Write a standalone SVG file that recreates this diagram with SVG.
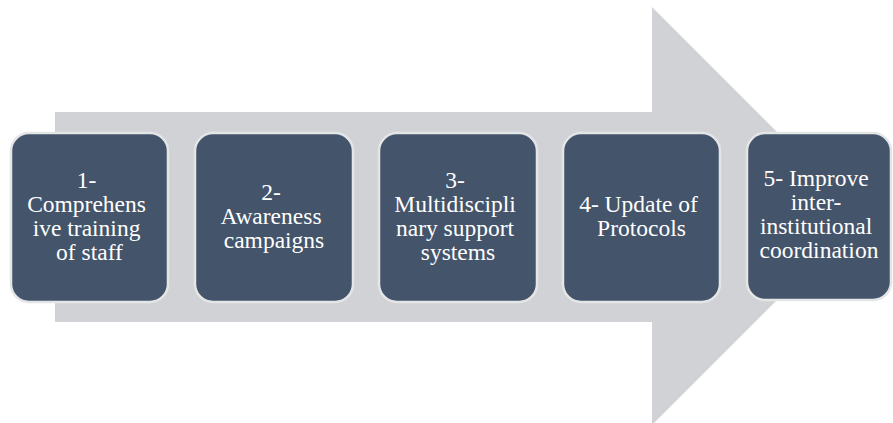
<svg xmlns="http://www.w3.org/2000/svg" width="893" height="423" viewBox="0 0 893 423">
  <style>
    .step { fill: #44546A; stroke: #E4E5E7; stroke-width: 2.5; }
    .label { font-family: "Liberation Serif", "Times New Roman", serif; font-size: 23.5px; fill: #FFFFFF; text-anchor: middle; }
  </style>
  <rect width="893" height="423" fill="#FFFFFF"/>
  <!-- background block arrow -->
  <g id="connectors">
    <polygon points="55,112 652,112 652,7 861,216 652,425 652,322 55,322" fill="#D0D2D6"/>
  </g>
  <g id="step1">
    <rect class="step" x="11" y="133" width="157" height="169" rx="18"/>
    <text class="label">
      <tspan x="89.5" y="188">1-</tspan>
      <tspan x="89.5" y="212">Comprehens</tspan>
      <tspan x="89.5" y="236">ive training</tspan>
      <tspan x="89.5" y="260">of staff</tspan>
    </text>
  </g>
  <g id="step2">
    <rect class="step" x="195" y="133" width="158" height="169" rx="18"/>
    <text class="label">
      <tspan x="274" y="200">2-</tspan>
      <tspan x="274" y="224">Awareness</tspan>
      <tspan x="274" y="248">campaigns</tspan>
    </text>
  </g>
  <g id="step3">
    <rect class="step" x="379" y="133" width="158" height="169" rx="18"/>
    <text class="label">
      <tspan x="458" y="188">3-</tspan>
      <tspan x="458" y="212">Multidiscipli</tspan>
      <tspan x="458" y="236">nary support</tspan>
      <tspan x="458" y="260">systems</tspan>
    </text>
  </g>
  <g id="step4">
    <rect class="step" x="563" y="133" width="157" height="169" rx="18"/>
    <text class="label">
      <tspan x="641.5" y="212">4- Update of</tspan>
      <tspan x="641.5" y="236">Protocols</tspan>
    </text>
  </g>
  <g id="step5">
    <rect class="step" x="747" y="133" width="144" height="167" rx="18"/>
    <text class="label">
      <tspan x="819" y="186">5- Improve</tspan>
      <tspan x="819" y="210">inter-</tspan>
      <tspan x="819" y="234">institutional</tspan>
      <tspan x="819" y="258">coordination</tspan>
    </text>
  </g>
</svg>
